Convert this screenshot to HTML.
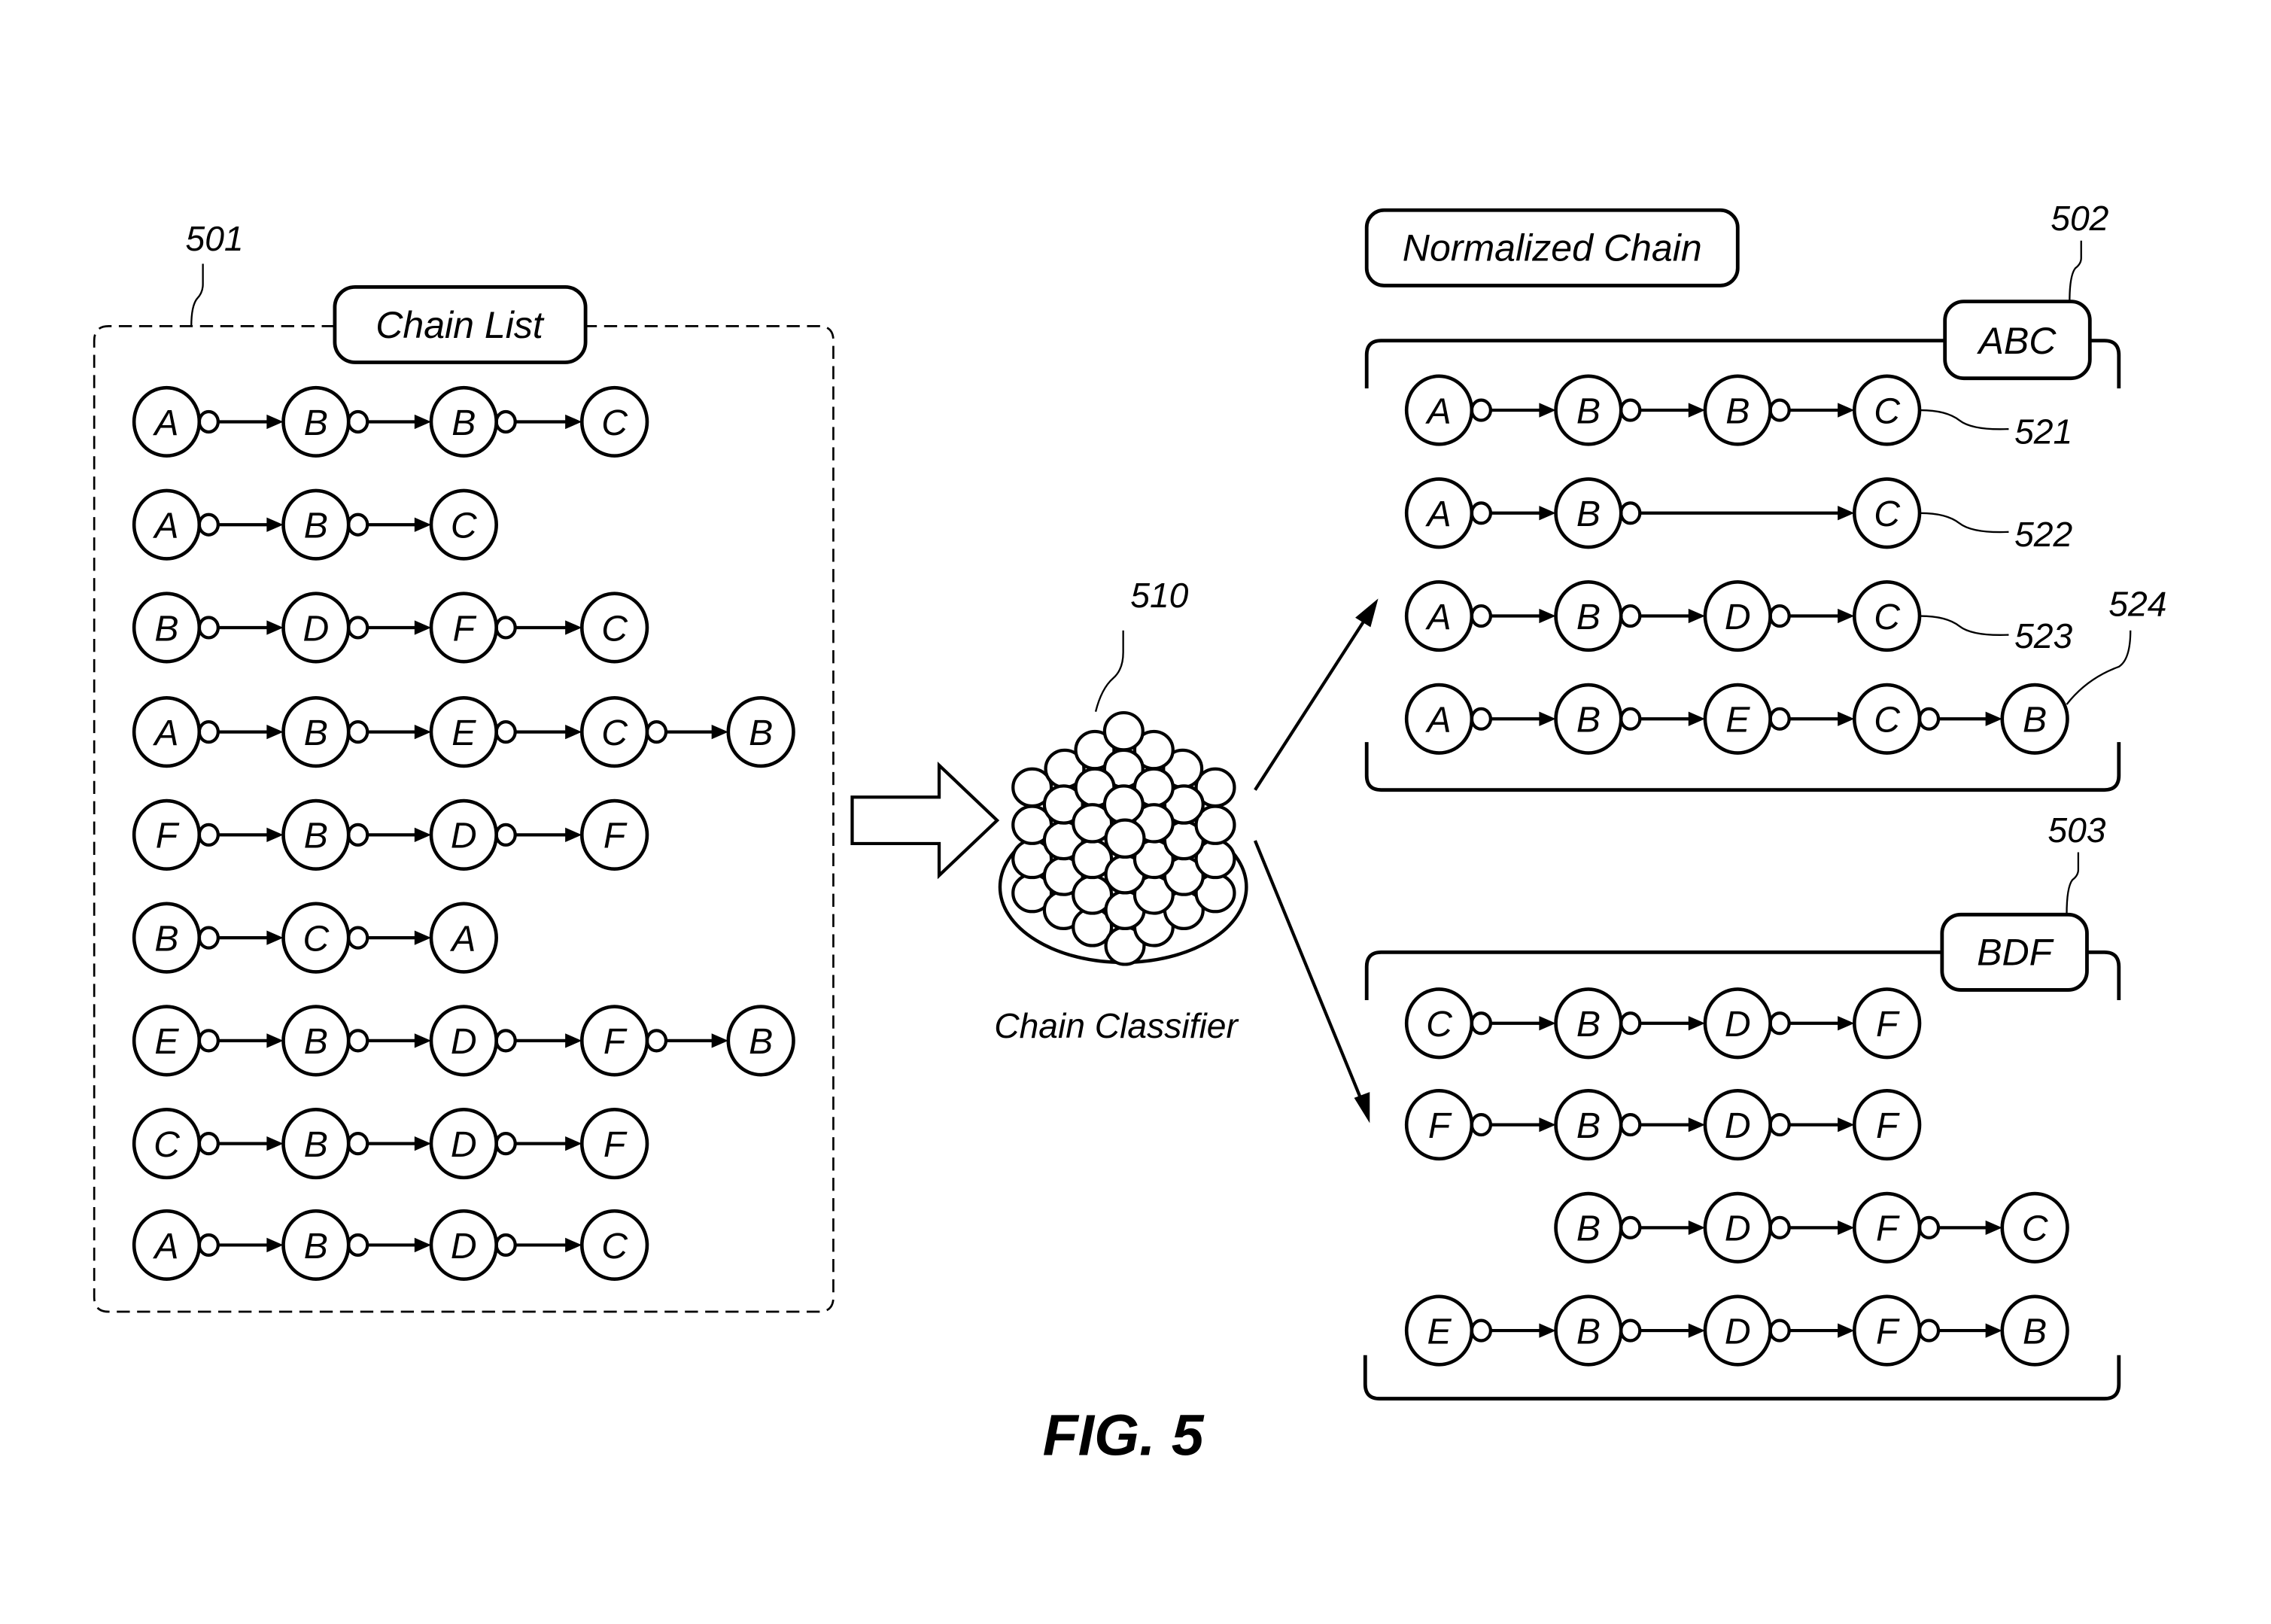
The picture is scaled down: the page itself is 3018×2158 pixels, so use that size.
<!DOCTYPE html>
<html><head><meta charset="utf-8">
<style>
html,body{margin:0;padding:0;background:#fff;}
svg{display:block;}
text{font-family:"Liberation Sans",sans-serif;font-style:italic;fill:#000;}
</style></head>
<body>
<svg id="s" width="3018" height="2158" viewBox="0 0 3018 2158" xmlns="http://www.w3.org/2000/svg">
<rect width="3018" height="2158" fill="#fff"/>
<g id="g" transform="scale(1.926)" fill="none" stroke="#000" stroke-width="2.2">
<path d="M231 225 H75 Q65 225 65 235 V895 Q65 905 75 905 H565 Q575 905 575 895 V235 Q575 225 565 225 H404" stroke-dasharray="9,5" stroke-width="1.4"/>
<rect x="231" y="198" width="173" height="52" rx="14" stroke-width="2.5"/>
<text x="317" y="233" font-size="26" text-anchor="middle" stroke="none">Chain List</text>
<text x="148" y="173" font-size="24" text-anchor="middle" stroke="none">501</text>
<path d="M140 182 V196 Q140 202 136 206 Q132 211 132 225" stroke-width="1.2"/>

<path d="M588 550 H648 V528 L688 566 L648 604 V582 H588 Z" stroke-width="2.2"/>

<text x="800" y="419" font-size="24" text-anchor="middle" stroke="none">510</text>
<path d="M775 435 V450 Q775 462 768 468 Q760 475 756 491" stroke-width="1.2"/>
<ellipse cx="775" cy="612" rx="85" ry="52" stroke-width="2.3"/>
<g id="sph"></g>
<text x="770" y="716" font-size="24" text-anchor="middle" stroke="none">Chain Classifier</text>

<line x1="866" y1="545" x2="944" y2="424"/>
<path d="M949 416 L937 426 L945 431 Z" fill="#000"/>
<line x1="866" y1="580" x2="941" y2="763"/>
<path d="M944 771 L936 758 L944 755 Z" fill="#000"/>

<rect x="943" y="145" width="256" height="52" rx="12" stroke-width="2.5"/>
<text x="1071" y="180" font-size="26" text-anchor="middle" stroke="none">Normalized Chain</text>

<path d="M943 268 V245 Q943 235 953 235 H1342" stroke-width="2.5"/>
<path d="M1442 235 H1452 Q1462 235 1462 245 V268" stroke-width="2.5"/>
<rect x="1342" y="208" width="100" height="53" rx="13" stroke-width="2.5"/>
<text x="1392" y="244" font-size="26" text-anchor="middle" stroke="none">ABC</text>
<text x="1435" y="159" font-size="24" text-anchor="middle" stroke="none">502</text>
<path d="M1436 166 V178 Q1436 182 1432 185 Q1428 190 1428 208" stroke-width="1.2"/>
<path d="M943 512 V535 Q943 545 953 545 H1452 Q1462 545 1462 535 V512" stroke-width="2.5"/>
<text x="1410" y="306" font-size="24" text-anchor="middle" stroke="none">521</text>
<path d="M1325 283 Q1343 283 1352 290 Q1361 297 1386 296" stroke-width="1.2"/>
<text x="1410" y="377" font-size="24" text-anchor="middle" stroke="none">522</text>
<path d="M1325 354 Q1343 354 1352 361 Q1361 368 1386 367" stroke-width="1.2"/>
<text x="1410" y="447" font-size="24" text-anchor="middle" stroke="none">523</text>
<path d="M1325 425 Q1343 425 1352 432 Q1361 439 1386 438" stroke-width="1.2"/>
<text x="1475" y="425" font-size="24" text-anchor="middle" stroke="none">524</text>
<path d="M1470 435 Q1470 455 1462 460 Q1440 468 1426 486" stroke-width="1.2"/>

<path d="M943 690 V667 Q943 657 953 657 H1340" stroke-width="2.5"/>
<path d="M1440 657 H1452 Q1462 657 1462 667 V690" stroke-width="2.5"/>
<rect x="1340" y="631" width="100" height="52" rx="13" stroke-width="2.5"/>
<text x="1390" y="666" font-size="26" text-anchor="middle" stroke="none">BDF</text>
<text x="1433" y="581" font-size="24" text-anchor="middle" stroke="none">503</text>
<path d="M1434 588 V600 Q1434 604 1430 607 Q1426 612 1426 631" stroke-width="1.2"/>
<path d="M942 935 V955 Q942 965 952 965 H1452 Q1462 965 1462 955 V935" stroke-width="2.5"/>

<text x="775" y="1004" font-size="40" font-weight="bold" text-anchor="middle" stroke="none">FIG. 5</text>
<g id="chains"></g>
</g>
</svg>
<script>
var NS="http://www.w3.org/2000/svg";
var SC=1.926;
function el(p,t,a,txt){var e=document.createElementNS(NS,t);for(var k in a)e.setAttribute(k,a[k]);if(txt)e.textContent=txt;p.appendChild(e);return e;}
var C=document.getElementById("chains");
function chain(y,items){
  for(var i=0;i<items.length;i++){
    var x=items[i][0];
    el(C,"ellipse",{cx:x,cy:y,rx:22.5,ry:23.5,"stroke-width":2.4});
    el(C,"text",{x:x,y:y+9,"font-size":25,"text-anchor":"middle",stroke:"none"},items[i][1]);
    if(i<items.length-1){
      var nx=items[i+1][0];
      el(C,"ellipse",{cx:x+29,cy:y,rx:6.5,ry:7,"stroke-width":2.2});
      el(C,"line",{x1:x+35.5,y1:y,x2:nx-30,y2:y,"stroke-width":2.2});
      el(C,"path",{d:"M"+(nx-22.5)+" "+y+" L"+(nx-34)+" "+(y-5)+" L"+(nx-34)+" "+(y+5)+" Z",fill:"#000",stroke:"none"});
    }
  }
}
var L=[115,218,320,424,525];
function row(xs,y,s){chain(y,s.split("").map(function(c,i){return [xs[i],c];}));}
var left=["ABBC","ABC","BDFC","ABECB","FBDF","BCA","EBDFB","CBDF","ABDC"];
var ly=[291,362,433,505,576,647,718,789,859];
for(var i=0;i<9;i++)row(L,ly[i],left[i]);
var R=[993,1096,1199,1302,1404];
row(R,283,"ABBC");
chain(354,[[993,"A"],[1096,"B"],[1302,"C"]]);
row(R,425,"ABDC");
row(R,496,"ABECB");
row(R,706,"CBDF");
row(R,776,"FBDF");
row([1096,1199,1302,1404],847,"BDFC");
row(R,918,"EBDFB");
var S=document.getElementById("sph");
function Z(zx,zy){return [(1300+zx/3)/SC,(750+zy/2.21)/SC];}
var pts=[
[215,965],[340,1015],[455,1065],[585,1120],[700,1065],[820,1015],[945,965],
[215,865],[340,915],[455,970],[585,1015],[700,970],[820,915],[945,865],
[215,765],[340,810],[455,865],[585,910],[700,865],[820,810],[945,765],
[215,655],[945,655],
[345,600],[815,600],
[465,545],[700,545],
[580,490],
[580,600],
[340,705],[820,705],
[465,655],[700,655],
[455,760],[700,760],
[580,705],
[585,805]];
pts.forEach(function(p){var q=Z(p[0],p[1]);el(S,"ellipse",{cx:q[0],cy:q[1],rx:13.2,ry:12.8,fill:"#fff","stroke-width":2.2});});
</script>
</body></html>
